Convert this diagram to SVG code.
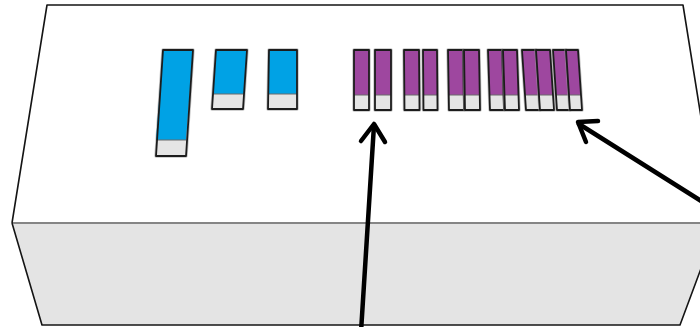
<svg xmlns="http://www.w3.org/2000/svg" width="700" height="327" viewBox="0 0 700 327">
  <style>
    .blue { fill: #00a2e5; }
    .purple { fill: #9e479f; }
    .face { fill: #e5e5e5; }
    .outline { fill: none; stroke: #1c1c1c; stroke-width: 1.8; stroke-linejoin: round; }
    .halo { fill: none; stroke: #9a9a9a; stroke-width: 3.4; stroke-linejoin: round; opacity: 0.6; }
    .split { stroke: #6a6a6a; stroke-width: 1; }
    .arrow { fill: none; stroke: #000; stroke-width: 4.5; stroke-linecap: round; stroke-linejoin: round; }
  </style>

  <rect width="700" height="327" fill="#ffffff"/>

  <g id="box">
    <polygon points="47,5 683,5 718,223 12,223" fill="#ffffff"/>
    <polygon points="12,223 718,223 680,325 42,325" fill="#e4e4e4"/>
    <line x1="12" y1="223" x2="718" y2="223" stroke="#858585" stroke-width="2"/>
    <polyline points="12,223 47,5 683,5 718,223" fill="none" stroke="#141414" stroke-width="1.6" stroke-linejoin="round"/>
    <polyline points="12,223 42,325 680,325 718,223" fill="none" stroke="#141414" stroke-width="1.6" stroke-linejoin="round"/>
  </g>

  <g id="blue-block-1">
    <polygon class="halo" points="163,50 193,50 186,156 156,156"/>
    <polygon class="blue" points="163,50 193,50 186,140 156,140"/>
    <polygon class="face" points="156,140 186,140 186,156 156,156"/>
    <line class="split" x1="156" y1="140" x2="186" y2="140"/>
    <polygon class="outline" points="163,50 193,50 186,156 156,156"/>
  </g>
  <g id="blue-block-2">
    <polygon class="halo" points="216,50 247,50 243,109 212,109"/>
    <polygon class="blue" points="216,50 247,50 244,94 213,94"/>
    <polygon class="face" points="213,94 244,94 243,109 212,109"/>
    <line class="split" x1="213" y1="94" x2="244" y2="94"/>
    <polygon class="outline" points="216,50 247,50 243,109 212,109"/>
  </g>
  <g id="blue-block-3">
    <polygon class="halo" points="269,50 297,50 297,109 268,109"/>
    <polygon class="blue" points="269,50 297,50 297,94 268,94"/>
    <polygon class="face" points="268,94 297,94 297,109 268,109"/>
    <line class="split" x1="268" y1="94" x2="297" y2="94"/>
    <polygon class="outline" points="269,50 297,50 297,109 268,109"/>
  </g>

  <g id="purple-pair-1">
    <polygon class="halo" points="354,50 369,50 369,110 354,110"/>
    <polygon class="purple" points="354,50 369,50 369,95 354,95"/>
    <polygon class="face" points="354,95 369,95 369,110 354,110"/>
    <line class="split" x1="354" y1="95" x2="369" y2="95"/>
    <polygon class="outline" points="354,50 369,50 369,110 354,110"/>
    <polygon class="halo" points="375,50 391,50 391,110 375,110"/>
    <polygon class="purple" points="375,50 391,50 391,95 375,95"/>
    <polygon class="face" points="375,95 391,95 391,110 375,110"/>
    <line class="split" x1="375" y1="95" x2="391" y2="95"/>
    <polygon class="outline" points="375,50 391,50 391,110 375,110"/>
  </g>
  <g id="purple-pair-2">
    <polygon class="halo" points="404,50 419,50 419.5,110 404.5,110"/>
    <polygon class="purple" points="404,50 419,50 419.4,95 404.4,95"/>
    <polygon class="face" points="404.4,95 419.4,95 419.5,110 404.5,110"/>
    <line class="split" x1="404.4" y1="95" x2="419.4" y2="95"/>
    <polygon class="outline" points="404,50 419,50 419.5,110 404.5,110"/>
    <polygon class="halo" points="423,50 437,50 437.5,110 423.5,110"/>
    <polygon class="purple" points="423,50 437,50 437.4,95 423.4,95"/>
    <polygon class="face" points="423.4,95 437.4,95 437.5,110 423.5,110"/>
    <line class="split" x1="423.4" y1="95" x2="437.4" y2="95"/>
    <polygon class="outline" points="423,50 437,50 437.5,110 423.5,110"/>
  </g>
  <g id="purple-pair-3">
    <polygon class="halo" points="448,50 463,50 464,110 449,110"/>
    <polygon class="purple" points="448,50 463,50 463.75,95 448.75,95"/>
    <polygon class="face" points="448.75,95 463.75,95 464,110 449,110"/>
    <line class="split" x1="448.75" y1="95" x2="463.75" y2="95"/>
    <polygon class="outline" points="448,50 463,50 464,110 449,110"/>
    <polygon class="halo" points="464,50 479,50 480,110 465,110"/>
    <polygon class="purple" points="464,50 479,50 479.75,95 464.75,95"/>
    <polygon class="face" points="464.75,95 479.75,95 480,110 465,110"/>
    <line class="split" x1="464.75" y1="95" x2="479.75" y2="95"/>
    <polygon class="outline" points="464,50 479,50 480,110 465,110"/>
  </g>
  <g id="purple-pair-4">
    <polygon class="halo" points="488,50 502,50 504,110 490,110"/>
    <polygon class="purple" points="488,50 502,50 503.5,95 489.5,95"/>
    <polygon class="face" points="489.5,95 503.5,95 504,110 490,110"/>
    <line class="split" x1="489.5" y1="95" x2="503.5" y2="95"/>
    <polygon class="outline" points="488,50 502,50 504,110 490,110"/>
    <polygon class="halo" points="503,50 517,50 519,110 505,110"/>
    <polygon class="purple" points="503,50 517,50 518.5,95 504.5,95"/>
    <polygon class="face" points="504.5,95 518.5,95 519,110 505,110"/>
    <line class="split" x1="504.5" y1="95" x2="518.5" y2="95"/>
    <polygon class="outline" points="503,50 517,50 519,110 505,110"/>
  </g>
  <g id="purple-pair-5">
    <polygon class="halo" points="522,50 536,50 540,110 526,110"/>
    <polygon class="purple" points="522,50 536,50 539,95 525,95"/>
    <polygon class="face" points="525,95 539,95 540,110 526,110"/>
    <line class="split" x1="525" y1="95" x2="539" y2="95"/>
    <polygon class="outline" points="522,50 536,50 540,110 526,110"/>
    <polygon class="halo" points="536,50 550,50 554,110 540,110"/>
    <polygon class="purple" points="536,50 550,50 553,95 539,95"/>
    <polygon class="face" points="539,95 553,95 554,110 540,110"/>
    <line class="split" x1="539" y1="95" x2="553" y2="95"/>
    <polygon class="outline" points="536,50 550,50 554,110 540,110"/>
  </g>
  <g id="purple-pair-6">
    <polygon class="halo" points="553,50 566,50 570,110 557,110"/>
    <polygon class="purple" points="553,50 566,50 569,95 556,95"/>
    <polygon class="face" points="556,95 569,95 570,110 557,110"/>
    <line class="split" x1="556" y1="95" x2="569" y2="95"/>
    <polygon class="outline" points="553,50 566,50 570,110 557,110"/>
    <polygon class="halo" points="566,50 578,50 582,110 570,110"/>
    <polygon class="purple" points="566,50 578,50 581,95 569,95"/>
    <polygon class="face" points="569,95 581,95 582,110 570,110"/>
    <line class="split" x1="569" y1="95" x2="581" y2="95"/>
    <polygon class="outline" points="566,50 578,50 582,110 570,110"/>
  </g>

  <g id="connectors">
    <line class="arrow" x1="361" y1="332" x2="374" y2="125"/>
    <polyline class="arrow" points="361,141 374,124 385,142"/>
    <line class="arrow" x1="706" y1="204" x2="579" y2="124"/>
    <polyline class="arrow" points="598,121 578,122 586,142"/>
  </g>
</svg>
